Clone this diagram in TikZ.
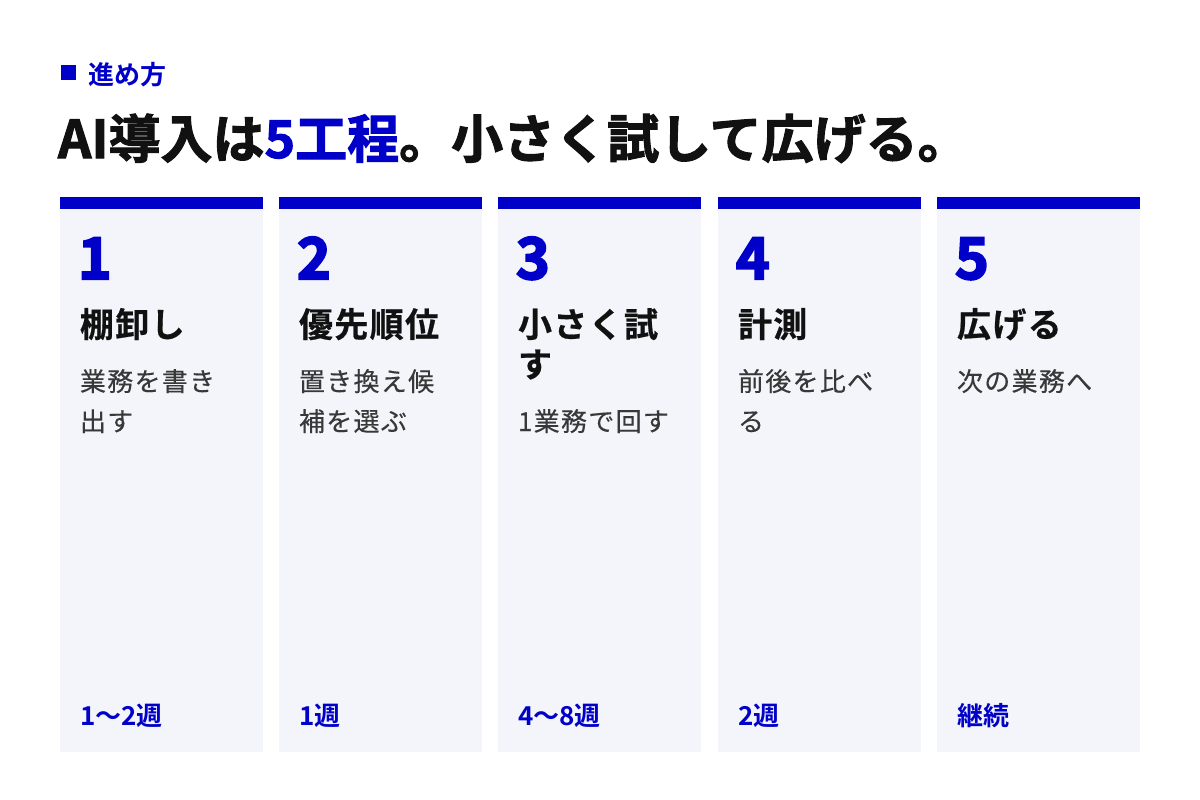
\documentclass[tikz,border=0pt]{standalone}
\usepackage{fontspec}
\setmainfont{Noto Sans CJK JP}
\newfontfamily\jpblack[FakeBold=2]{Noto Sans CJK JP Bold}
\newfontfamily\jpnum[FakeBold=3.5]{Noto Sans CJK JP Bold}
\newfontfamily\jpbold{Noto Sans CJK JP Bold}
\newfontfamily\jpttl[LetterSpace=4,FakeBold=0.6]{Noto Sans CJK JP Bold}
\newfontfamily\jpdsc[LetterSpace=5,FakeBold=0.3]{Noto Sans CJK JP}
\definecolor{acc}{HTML}{0000C8}
\definecolor{panel}{HTML}{F3F5FA}
\definecolor{ink}{HTML}{111111}
\definecolor{sub}{HTML}{383838}
\tikzset{
  txt/.style={inner sep=0pt, outer sep=0pt, anchor=base west},
  kicker/.style={txt, text=acc, font=\jpbold\fontsize{19.5}{24}\selectfont},
  headline/.style={txt, text=ink, font=\jpblack\fontsize{39}{46}\selectfont},
  stepnum/.style={txt, text=acc, font=\jpnum\fontsize{43}{50}\selectfont},
  steptitle/.style={txt, text=ink, font=\jpttl\fontsize{25.5}{30}\selectfont},
  stepdesc/.style={txt, text=sub, font=\jpdsc\fontsize{19.5}{30}\selectfont},
  stepdur/.style={txt, text=acc, font=\jpbold\fontsize{19.5}{24}\selectfont},
}
\begin{document}
\begin{tikzpicture}[x=0.75pt,y=-0.75pt]
\useasboundingbox (0,0) rectangle (1200,800);
\fill[white] (0,0) rectangle (1200,800);
% header
\fill[acc] (61,65) rectangle (76,80);
\node[kicker] (kick) at (88,84) {進め方};
\node[headline] (title) at (58,158) {AI導入は\textcolor{acc}{5工程}。小さく試して広げる。};
% panels
\foreach \X in {60,279,498,718,937}{
  \fill[panel] (\X,209) rectangle ++(203,543);
  \fill[acc] (\X,197) rectangle ++(203,12);
}
% column 1
\node[stepnum] (n1) at (78,279) {1};
\node[steptitle] (t1) at (80,337) {棚卸し};
\node[stepdesc] (d1a) at (80,391) {業務を書き};
\node[stepdesc] (d1b) at (80,431) {出す};
\node[stepdur] (u1) at (80,725) {1〜2週};
% column 2
\node[stepnum] (n2) at (297,279) {2};
\node[steptitle] (t2) at (299,337) {優先順位};
\node[stepdesc] (d2a) at (299,391) {置き換え候};
\node[stepdesc] (d2b) at (299,431) {補を選ぶ};
\node[stepdur] (u2) at (299,725) {1週};
% column 3
\node[stepnum] (n3) at (516,279) {3};
\node[steptitle] (t3a) at (518,337) {小さく試};
\node[steptitle] (t3b) at (518,377) {す};
\node[stepdesc] (d3a) at (518,431) {1業務で回す};
\node[stepdur] (u3) at (518,725) {4〜8週};
% column 4
\node[stepnum] (n4) at (736,279) {4};
\node[steptitle] (t4) at (738,337) {計測};
\node[stepdesc] (d4a) at (738,391) {前後を比べ};
\node[stepdesc] (d4b) at (738,431) {る};
\node[stepdur] (u4) at (738,725) {2週};
% column 5
\node[stepnum] (n5) at (955,279) {5};
\node[steptitle] (t5) at (957,337) {広げる};
\node[stepdesc] (d5a) at (957,391) {次の業務へ};
\node[stepdur] (u5) at (957,725) {継続};
\end{tikzpicture}
\end{document}
